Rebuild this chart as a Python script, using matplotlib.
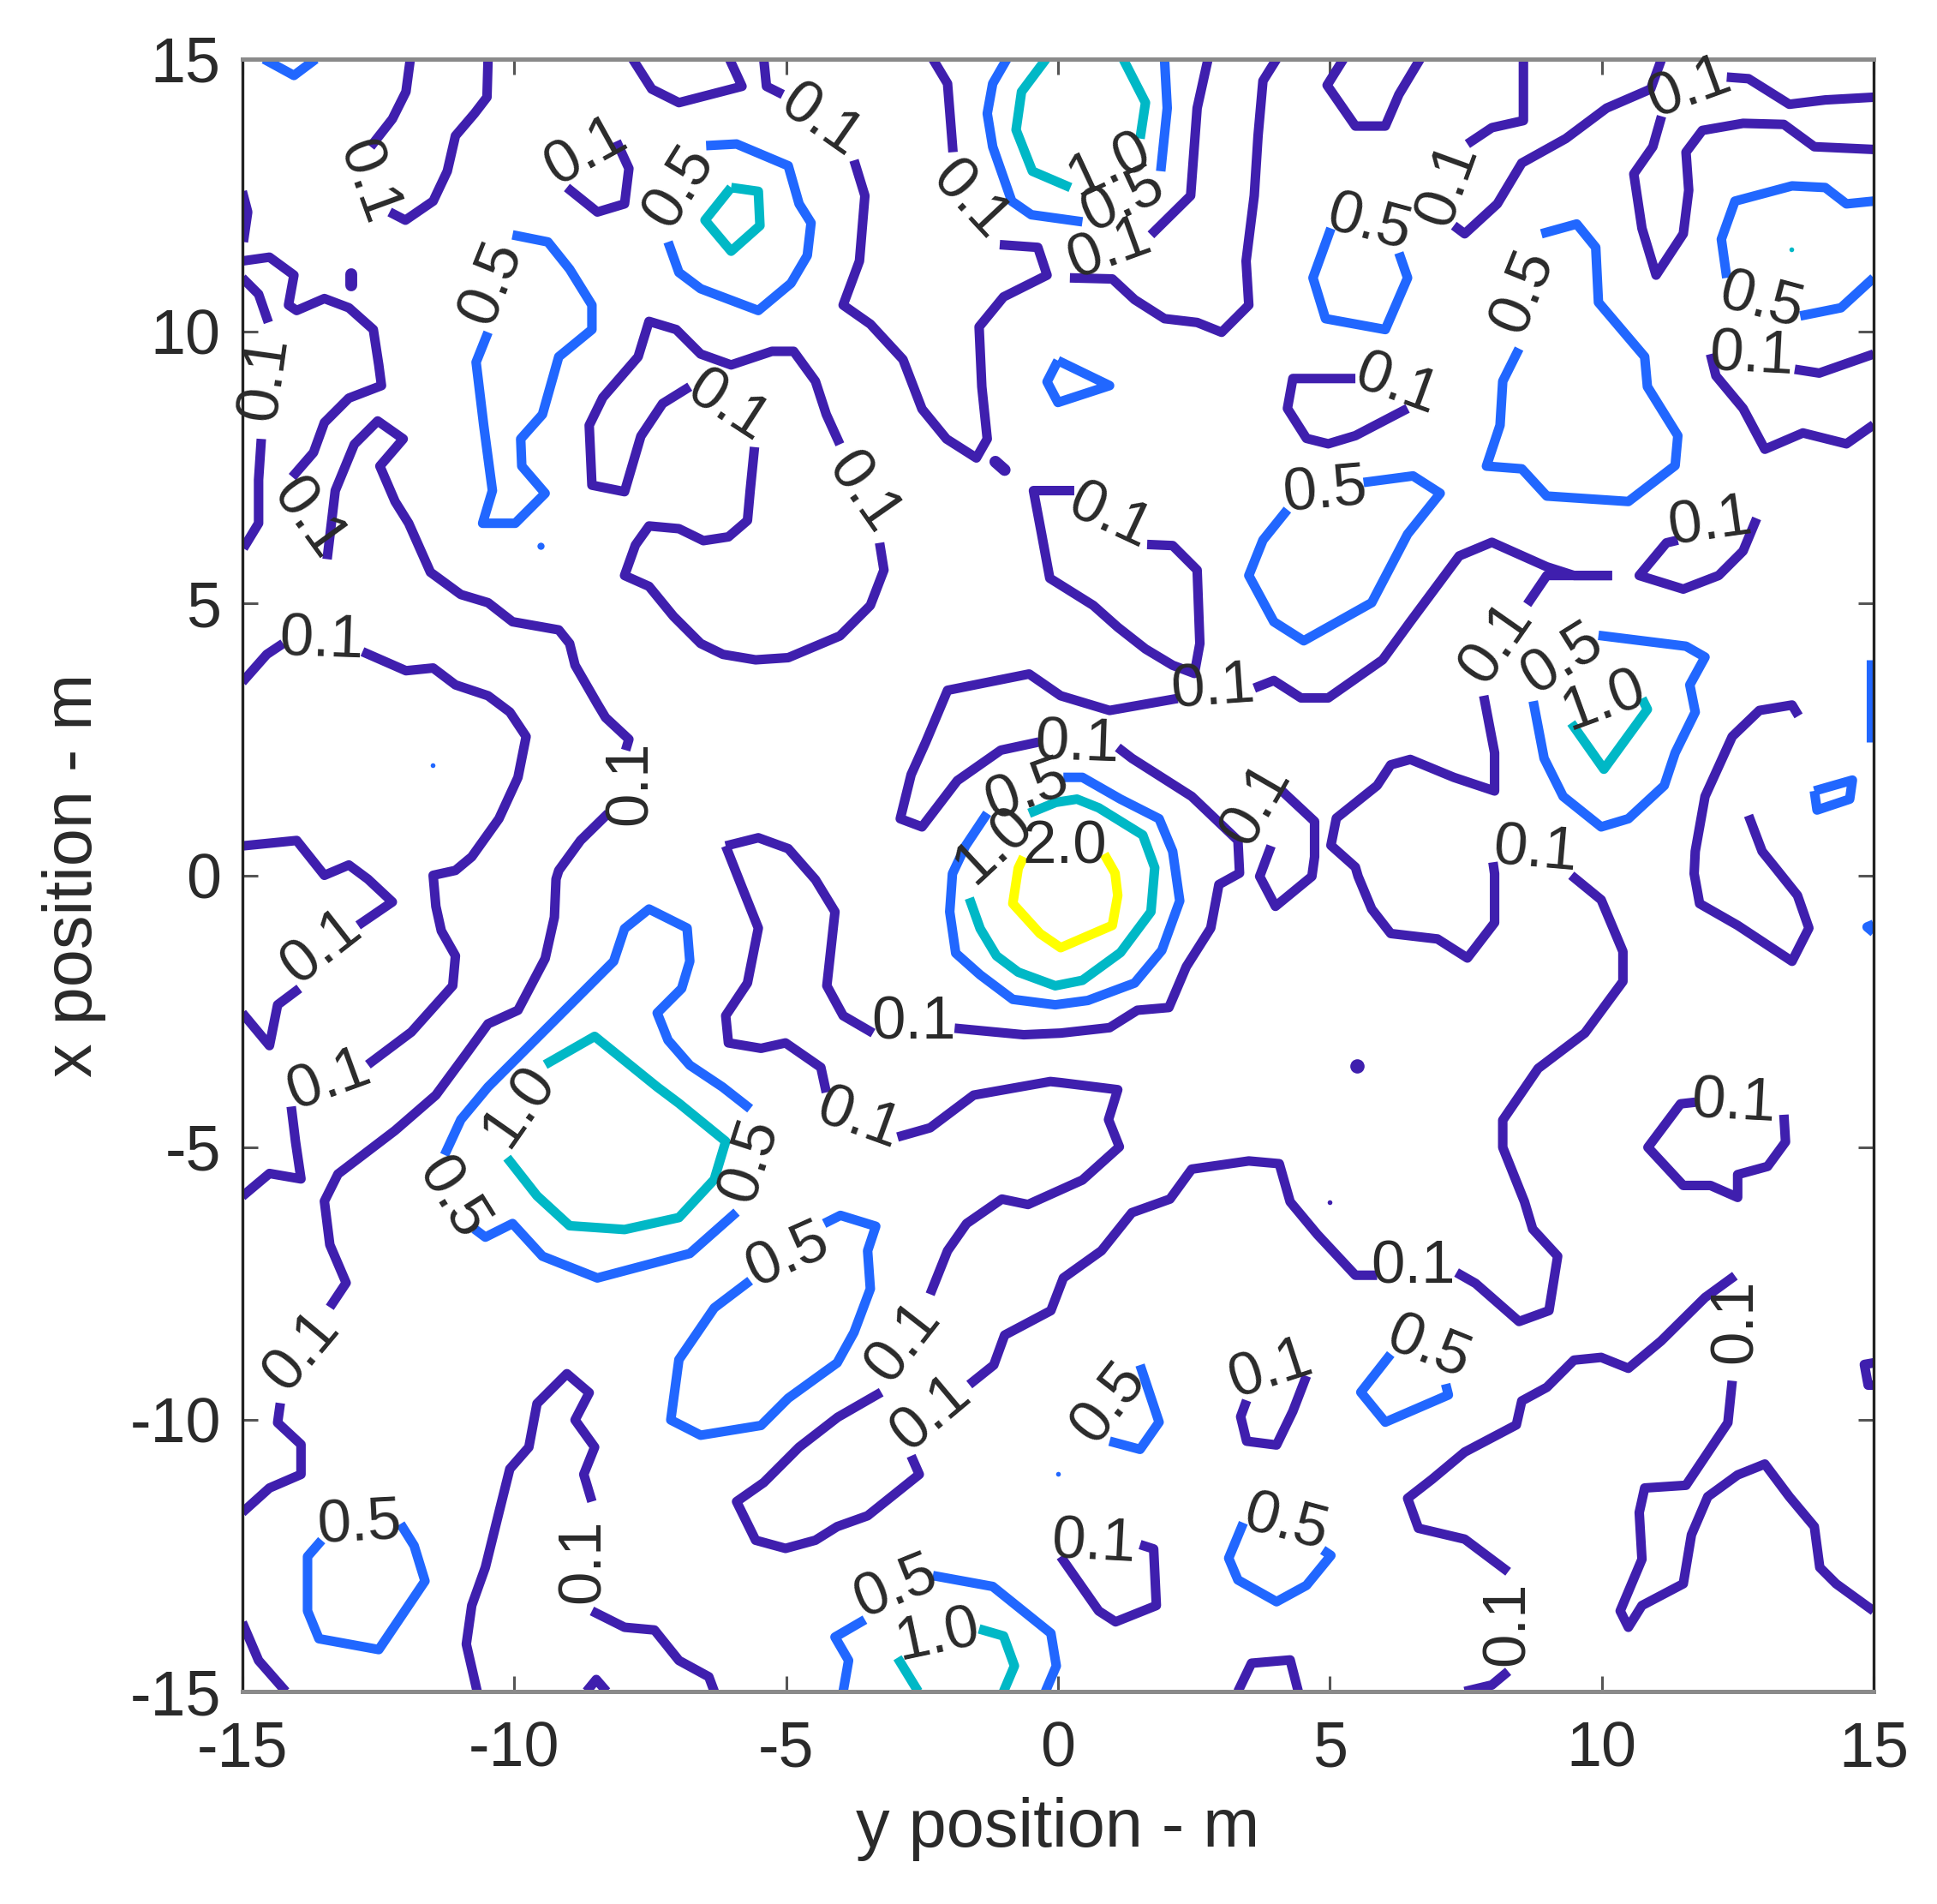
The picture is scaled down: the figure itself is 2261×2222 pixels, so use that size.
import matplotlib
matplotlib.use("Agg")
import matplotlib.pyplot as plt

plt.rcParams['font.family'] = ['Liberation Sans', 'DejaVu Sans']
plt.rcParams['axes.unicode_minus'] = False

level_01 = [
 [(-11.91,15),(-11.99,14.4),(-12.24,13.9),(-12.64,13.39)],
 [(-12.29,12.19),(-12.0,12.04),(-11.49,12.39),(-11.23,12.94),(-11.08,13.59),(-10.73,14.0),(-10.5,14.3),(-10.48,15)],
 [(-15,12.57),(-14.9,12.19),(-14.98,11.64)],
 [(-15,11.29),(-14.5,11.36),(-14.05,11.03),(-14.15,10.48),(-14,10.38),(-13.49,10.6),(-13.04,10.43),(-12.59,10.03),(-12.49,9.38),(-12.44,9),(-13.04,8.77),(-13.49,8.32),(-13.69,7.77),(-14.08,7.32)],
 [(-15,10.98),(-14.7,10.68),(-14.52,10.16)],
 [(-14.65,8.02),(-14.7,7.27),(-14.7,6.47),(-14.98,6.01)],
 [(-13.44,5.81),(-13.29,7.07),(-12.94,7.92),(-12.51,8.35),(-12.04,8.02),(-12.47,7.52),(-12.19,6.87),(-11.94,6.47),(-11.54,5.57),(-10.98,5.16),(-10.48,5.01),(-10.03,4.66),(-9.18,4.51),(-8.98,4.26),(-8.88,3.86),(-8.47,3.15),(-8.32,2.9),(-7.89,2.5),(-7.95,2.3)],
 [(-15,3.55),(-14.55,4.06),(-14.25,4.26)],
 [(-12.79,4.11),(-11.99,3.76),(-11.49,3.81),(-11.08,3.5),(-10.48,3.3),(-10.08,3.0),(-9.78,2.55),(-9.93,1.8),(-10.28,1.04),(-10.78,0.34),(-11.08,0.09),(-11.49,0.0),(-11.44,-0.57),(-11.34,-1.02),(-11.08,-1.48),(-11.13,-2.03),(-11.89,-2.88),(-12.69,-3.48)],
 [(-15,0.54),(-14,0.64),(-13.49,0.0),(-13.04,0.19),(-12.69,-0.07),(-12.24,-0.49),(-12.87,-0.92)],
 [(-13.95,-2.08),(-14.35,-2.38),(-14.5,-3.13),(-15,-2.53)],
 [(-14.1,-4.25),(-14.02,-4.9),(-13.92,-5.58),(-14.5,-5.48),(-15,-5.9)],
 [(-8.27,1.14),(-8.78,0.64),(-9.18,0.09),(-9.23,-0.07),(-9.26,-0.77),(-9.43,-1.53),(-9.93,-2.48),(-10.48,-2.73),(-10.88,-3.28),(-11.44,-4.04),(-12.19,-4.69),(-13.24,-5.49),(-13.49,-5.99),(-13.39,-6.79),(-13.09,-7.49),(-13.39,-7.94)],
 [(-14.3,-9.7),(-14.35,-10.06),(-13.92,-10.46),(-13.92,-11.01),(-14.5,-11.26),(-15,-11.71)],
 [(-15,-13.73),(-14.7,-14.43),(-14.2,-15)],
 [(-10.68,-15),(-10.88,-14.13),(-10.78,-13.42),(-10.53,-12.72),(-10.28,-11.71),(-10.08,-10.91),(-9.73,-10.51),(-9.58,-9.71),(-9.03,-9.16),(-8.62,-9.51),(-8.88,-10.01),(-8.52,-10.51),(-8.72,-11.01),(-8.57,-11.51)],
 [(-8.57,-13.52),(-7.97,-13.82),(-7.42,-13.87),(-6.97,-14.43),(-6.42,-14.73),(-6.32,-15)],
 [(-8.67,-15),(-8.49,-14.78),(-8.3,-15)],
 [(-7.82,15),(-7.47,14.45),(-6.97,14.2),(-5.81,14.5),(-6.04,15)],
 [(-5.41,15),(-5.36,14.5),(-5.06,14.35)],
 [(-8.12,13.49),(-7.89,12.99),(-7.97,12.34),(-8.47,12.19),(-9.03,12.64)],
 [(-3.75,13.14),(-3.55,12.49),(-3.65,11.29),(-3.95,10.48),(-3.45,10.13),(-2.85,9.48),(-2.5,8.57),(-2.05,8.02),(-1.5,7.67),(-1.3,8.02),(-1.4,8.98),(-1.45,10.08),(-1.0,10.63),(-0.2,11.03),(-0.37,11.54),(-1.07,11.59)],
 [(-2.3,15),(-2.03,14.55),(-1.93,13.29)],
 [(0.22,10.98),(1.0,10.96),(1.41,10.58),(1.96,10.23),(2.56,10.16),(3.01,9.98),(3.51,10.48),(3.46,11.29),(3.61,12.49),(3.68,13.59),(3.77,14.6),(4.02,15)],
 [(2.76,15),(2.56,14.1),(2.44,12.49),(1.71,11.77)],
 [(5.25,15),(4.95,14.52),(5.47,13.77),(6.02,13.77),(6.27,14.35),(6.66,15)],
 [(8.56,15),(8.56,13.87),(7.98,13.74),(7.53,13.44)],
 [(11.1,15),(10.9,14.45),(10.09,14.1),(9.34,13.54),(8.53,13.09),(8.08,12.34),(7.48,11.79),(7.28,11.94)],
 [(12.3,14.67),(12.7,14.64),(13.45,14.17),(14.11,14.25),(15,14.3)],
 [(11.1,13.95),(10.94,13.39),(10.59,12.89),(10.74,11.89),(11.0,11.03),(11.5,11.79),(11.6,12.59),(11.55,13.29),(11.85,13.69),(12.6,13.82),(13.35,13.8),(13.91,13.39),(15,13.34)],
 [(13.55,9.3),(14.0,9.23),(15,9.58)],
 [(12.0,9.58),(12.1,9.18),(12.6,8.58),(13.0,7.83),(13.7,8.13),(14.5,7.93),(15,8.28)],
 [(6.43,8.58),(5.47,8.08),(4.97,7.93),(4.57,8.03),(4.22,8.58),(4.32,9.13),(5.47,9.13)],
 [(-4.01,7.92),(-4.26,8.47),(-4.46,9.08),(-4.86,9.63),(-5.26,9.63),(-6.01,9.38),(-6.57,9.58),(-7.02,10.03),(-7.52,10.18),(-7.72,9.53),(-8.37,8.78),(-8.62,8.27),(-8.57,7.17),(-7.97,7.05),(-7.67,8.07),(-7.27,8.67),(-6.77,8.98)],
 [(-5.58,7.87),(-5.66,7.07),(-5.71,6.52),(-6.06,6.22),(-6.52,6.15),(-6.97,6.37),(-7.52,6.42),(-7.77,6.07),(-7.97,5.51),(-7.52,5.31),(-7.07,4.76),(-6.57,4.26),(-6.16,4.06),(-5.56,3.96),(-4.96,4.0),(-4.01,4.4),(-3.45,4.96),(-3.2,5.61),(-3.28,6.11)],
 [(0.3,7.07),(-0.45,7.07),(-0.3,6.27),(-0.15,5.46),(0.65,4.96),(1.1,4.56),(1.61,4.16),(2.11,3.86),(2.51,3.71),(2.61,4.26),(2.56,5.61),(2.11,6.06),(1.64,6.08)],
 [(2.2,3.25),(0.95,3.03),(0.05,3.3),(-0.53,3.7),(-2.03,3.4),(-2.43,2.45),(-2.7,1.85),(-2.9,1.04),(-2.5,0.89),(-1.85,1.74),(-1.05,2.3),(-0.35,2.45)],
 [(3.61,3.44),(3.97,3.58),(4.47,3.26),(4.97,3.26),(5.97,3.96),(6.48,4.66),(7.38,5.87),(7.98,6.12),(8.99,5.67),(9.49,5.51),(10.19,5.51)],
 [(8.63,4.98),(8.99,5.51),(10.19,5.51)],
 [(12.85,6.56),(12.6,5.96),(12.15,5.51),(11.5,5.26),(10.69,5.51),(11.19,6.11),(11.4,6.16)],
 [(1.1,2.35),(1.36,2.15),(2.46,1.45),(3.31,0.64),(3.34,0.04),(2.96,-0.17),(2.81,-0.97),(2.36,-1.68),(2.04,-2.43),(1.46,-2.48),(0.95,-2.8),(0.05,-2.9),(-0.63,-2.93),(-1.9,-2.81)],
 [(-6.11,0.54),(-5.51,0.69),(-4.96,0.49),(-4.46,-0.08),(-4.1,-0.67),(-4.25,-2.03),(-3.95,-2.58),(-3.4,-2.9)],
 [(-6.11,0.54),(-5.81,-0.22),(-5.51,-0.97),(-5.71,-1.98),(-6.11,-2.58),(-6.06,-3.08),(-5.46,-3.18),(-5.01,-3.08),(-4.36,-3.53),(-4.26,-3.99)],
 [(-2.95,-4.81),(-2.35,-4.64),(-1.55,-4.04),(-0.14,-3.79),(0.05,-3.81),(1.1,-3.94),(0.93,-4.49),(1.13,-4.99),(0.45,-5.6),(-0.55,-6.05),(-1.03,-5.95),(-1.68,-6.4),(-2.03,-6.9),(-2.35,-7.7)],
 [(-1.63,-9.36),(-1.18,-9.0),(-0.98,-8.45),(-0.13,-8.0),(0.1,-7.4),(0.8,-6.9),(1.36,-6.2),(2.06,-5.95),(2.46,-5.4),(3.51,-5.25),(4.07,-5.3),(4.27,-6.0),(4.77,-6.6),(5.47,-7.35),(5.87,-7.35)],
 [(7.33,-7.3),(7.68,-7.5),(8.48,-8.2),(9.03,-8.0),(9.19,-7.0),(8.73,-6.5),(8.58,-6.0),(8.18,-5.0),(8.18,-4.5),(8.83,-3.55),(9.69,-2.9),(10.39,-1.95),(10.39,-1.4),(9.99,-0.45),(9.44,0.0)],
 [(7.83,3.3),(8.03,2.25),(8.03,1.55),(7.28,1.8),(6.48,2.13),(6.12,2.03),(5.87,1.65),(5.12,1.05),(5.02,0.55),(5.47,0.15),(5.52,-0.02),(5.77,-0.62),(6.12,-1.07),(6.98,-1.17),(7.53,-1.52),(8.03,-0.87),(8.03,0.03),(8.0,0.24)],
 [(4.12,1.55),(4.72,0.99),(4.72,0.34),(4.67,-0.02),(4.0,-0.57),(3.71,-0.02),(3.92,0.54)],
 [(13.62,2.93),(13.5,3.13),(12.9,3.03),(12.4,2.55),(11.9,1.45),(11.72,0.44),(11.7,0.03),(11.8,-0.52),(12.5,-0.92),(13.5,-1.58),(13.81,-0.97),(13.6,-0.37),(13.2,0.13),(12.95,0.44),(12.7,1.1)],
 [(12.45,-7.36),(11.9,-7.76),(11.09,-8.56),(10.49,-9.06),(9.99,-8.86),(9.49,-8.91),(8.99,-9.41),(8.53,-9.66),(8.43,-10.1),(7.48,-10.6),(6.88,-11.1),(6.43,-11.45),(6.63,-12.0),(7.48,-12.2),(8.28,-12.8)],
 [(12.4,-9.29),(12.32,-10.06),(11.55,-11.21),(10.79,-11.26),(10.69,-11.71),(10.74,-12.57),(10.34,-13.52),(10.49,-13.82),(10.74,-13.42),(11.5,-13.02),(11.65,-12.12),(11.95,-11.42),(12.5,-11.02),(13.0,-10.82),(13.45,-11.42),(13.91,-11.97),(14.01,-12.72),(14.31,-13.02),(15,-13.52)],
 [(15,-8.96),(14.83,-8.99),(14.9,-9.37),(15,-9.37)],
 [(11.72,-4.17),(11.45,-4.2),(10.85,-5.0),(11.5,-5.7),(12.0,-5.7),(12.5,-5.92),(12.5,-5.5),(13.05,-5.35),(13.38,-4.9),(13.35,-4.4)],
 [(4.57,-9.2),(4.32,-9.85),(4.02,-10.47),(3.47,-10.4),(3.36,-9.95),(3.47,-9.65)],
 [(1.51,-12.3),(1.76,-12.38),(1.81,-13.42),(1.06,-13.72),(0.75,-13.52),(0.05,-12.52)],
 [(3.31,-15),(3.56,-14.48),(4.27,-14.42),(4.42,-15)],
 [(7.48,-15),(7.98,-14.88),(8.28,-14.63)],
 [(-3.25,-9.5),(-4.05,-9.96),(-4.76,-10.51),(-5.41,-11.16),(-5.91,-11.51),(-5.56,-12.22),(-5.01,-12.37),(-4.46,-12.22),(-4.06,-11.97),(-3.5,-11.77),(-2.55,-11.01),(-2.7,-10.67)],
]
blobs_01 = [
 [(-13.0,11.05),(-13.0,10.85)],
 [(-1.15,7.6),(-0.98,7.45)],
]
level_05 = [
 [(-14.6,15),(-14.05,14.7),(-13.65,15)],
 [(-10.03,11.77),(-9.38,11.64),(-8.98,11.14),(-8.57,10.48),(-8.57,10.03),(-9.18,9.53),(-9.48,8.47),(-9.88,8.02),(-9.86,7.52),(-9.43,7.02),(-9.98,6.47),(-10.58,6.47),(-10.4,7.07),(-10.56,8.27),(-10.7,9.43),(-10.48,9.98)],
 [(-6.47,13.41),(-5.91,13.44),(-4.96,13.04),(-4.76,12.34),(-4.54,11.99),(-4.61,11.39),(-4.91,10.88),(-5.51,10.38),(-6.57,10.78),(-6.97,11.08),(-7.17,11.64)],
 [(-0.94,15),(-1.2,14.55),(-1.3,14.0),(-1.2,13.39),(-0.85,12.39),(-0.49,12.14),(0.45,12.01)],
 [(1.96,15),(2.01,14.1),(1.89,12.94)],
 [(0.0,9.46),(0.95,9.0),(0.0,8.69),(-0.2,9.07),(0.0,9.46)],
 [(5.02,11.89),(4.69,10.98),(4.92,10.23),(6.02,10.03),(6.43,10.98),(6.27,11.44)],
 [(8.89,11.79),(9.54,11.97),(9.89,11.54),(9.94,10.53),(10.79,9.53),(10.84,8.98),(11.4,8.08),(11.35,7.53),(10.49,6.87),(8.99,6.97),(8.53,7.47),(7.88,7.52),(8.13,8.27),(8.18,9.08),(8.48,9.68)],
 [(12.3,10.98),(12.2,11.69),(12.45,12.39),(13.5,12.67),(14.11,12.64),(14.5,12.34),(15,12.39)],
 [(13.65,10.28),(14.4,10.43),(15,10.98)],
 [(5.62,7.22),(6.53,7.34),(7.03,7.02),(6.43,6.27),(5.77,5.01),(4.52,4.31),(3.97,4.66),(3.51,5.51),(3.77,6.16),(4.22,6.72)],
 [(9.94,4.41),(11.55,4.21),(11.9,4.01),(11.62,3.5),(11.72,3.0),(11.35,2.25),(11.15,1.65),(10.49,1.04),(9.99,0.89),(9.29,1.45),(8.94,2.15),(8.74,3.2)],
 [(14.95,3.96),(14.95,2.45)],
 [(13.91,1.55),(14.61,1.75),(14.56,1.4),(13.96,1.2),(13.91,1.55)],
 [(15,-0.9),(14.88,-0.95),(15,-1.05)],
 [(0.1,1.8),(0.45,1.8),(1.15,1.4),(1.86,1.04),(2.11,0.44),(2.24,-0.47),(1.91,-1.38),(1.41,-1.98),(0.55,-2.3),(-0.05,-2.38),(-0.83,-2.28),(-1.43,-1.83),(-1.88,-1.43),(-1.99,-0.67),(-1.94,0.03),(-1.7,0.54),(-1.3,1.14)],
 [(-11.28,-5.14),(-10.98,-4.49),(-10.48,-3.89),(-9.88,-3.29),(-9.18,-2.59),(-8.17,-1.58),(-7.97,-0.98),(-7.52,-0.62),(-6.82,-0.97),(-6.77,-1.58),(-6.92,-2.08),(-7.37,-2.53),(-7.17,-3.03),(-6.77,-3.49),(-6.17,-3.89),(-5.66,-4.29)],
 [(-5.91,-6.19),(-6.77,-6.95),(-8.47,-7.4),(-9.48,-7.0),(-10.03,-6.4),(-10.53,-6.65),(-10.73,-6.5)],
 [(-5.66,-7.45),(-6.32,-7.95),(-6.97,-8.9),(-7.12,-10.01),(-6.57,-10.29),(-5.46,-10.11),(-4.96,-9.61),(-4.06,-8.96),(-3.75,-8.4),(-3.45,-7.6),(-3.5,-6.9),(-3.35,-6.45),(-4.0,-6.25),(-4.3,-6.4)],
 [(-12.09,-11.92),(-11.84,-12.32),(-11.64,-12.97),(-12.49,-14.23),(-13.59,-14.03),(-13.8,-13.52),(-13.8,-12.52),(-13.54,-12.22)],
 [(-2.3,-12.87),(-1.2,-13.07),(-0.13,-13.93),(-0.03,-14.53),(-0.23,-15)],
 [(-3.55,-13.68),(-4.1,-14.0),(-3.85,-14.43),(-3.95,-15)],
 [(1.51,-9.0),(1.86,-10.05),(1.51,-10.55),(0.95,-10.4)],
 [(6.12,-8.8),(5.57,-9.5),(6.02,-10.05),(7.18,-9.55),(7.13,-9.35)],
 [(3.41,-11.9),(3.14,-12.55),(3.31,-12.95),(4.02,-13.35),(4.57,-13.05),(5.02,-12.5),(4.87,-12.4)],
]
level_10 = [
 [(-6.01,12.64),(-5.51,12.57),(-5.48,11.94),(-6.01,11.47),(-6.49,12.04),(-6.01,12.64)],
 [(-0.22,15),(-0.67,14.4),(-0.77,13.7),(-0.47,12.94),(0.23,12.64)],
 [(1.2,15),(1.61,14.2),(1.51,13.54)],
 [(9.44,2.8),(10.04,1.95),(10.84,3.05),(10.74,3.25)],
 [(-0.53,1.14),(-0.04,1.34),(0.35,1.4),(0.75,1.24),(1.56,0.74),(1.78,0.14),(1.71,-0.67),(1.15,-1.42),(0.45,-1.93),(-0.05,-2.03),(-0.73,-1.78),(-1.13,-1.48),(-1.43,-0.98),(-1.63,-0.42)],
 [(-9.43,-3.48),(-8.52,-2.96),(-7.37,-3.89),(-6.97,-4.19),(-6.11,-4.89),(-6.32,-5.59),(-6.97,-6.29),(-7.97,-6.51),(-8.98,-6.44),(-9.58,-5.89),(-10.13,-5.19)],
 [(-1.45,-13.85),(-1.0,-13.98),(-0.8,-14.53),(-1.0,-15)],
 [(-2.95,-14.38),(-2.57,-15)],
]
level_20 = [
 [(0.85,0.39),(1.05,0.04),(1.1,-0.37),(1.0,-0.92),(0.05,-1.33),(-0.33,-1.07),(-0.83,-0.52),(-0.73,0.13),(-0.63,0.34)],
]
dots_01 = [(5.5,-3.5,12),(4.99,-6.0,4)]
dots_05 = [(-9.51,6.05,6),(-11.5,2.02,4),(0.0,-11.0,4)]
dots_10 = [(13.48,11.5,4)]

label_text = ["0.1","0.1","0.5","0.5","0.1","0.1","0.1","0.1","0.1","0.1","0.1","0.1",
              "1.0","0.5","0.1","0.5","0.1","0.1","0.5","0.5","0.1","0.1","0.5","0.1","0.1","0.5","1.0","0.1","0.1","0.5","1.0","2.0","0.1","0.1","0.1",
              "0.1","0.1","1.0","0.5","0.5","0.1","0.1","0.5","0.1","0.1","0.1","0.5","0.1","0.5","1.0",
              "0.1","0.1","0.1","0.5","0.1","0.5","0.5","0.1","0.1"]
label_x = [-12.71,-8.67,-6.95,-10.4,-14.58,-13.79,-6.08,-4.38,-3.6,-1.63,-13.54,-7.85,
           0.95,1.2,0.95,5.72,7.18,11.62,8.56,12.93,12.75,6.22,4.92,0.95,12.0,9.29,10.04,8.08,2.86,-0.56,-1.17,0.12,0.35,3.66,8.78,
           -13.54,-13.41,-9.9,-5.66,-11.16,-3.67,-2.65,-4.97,-13.9,-2.83,-2.33,-12.85,-8.72,-2.97,-2.2,
           6.53,12.42,12.48,6.81,3.92,0.95,4.19,0.65,8.28]
label_y = [12.74,13.29,12.64,10.88,9.13,6.55,8.6,13.85,7.02,12.39,4.31,1.7,
           13.04,12.39,11.49,11.96,12.69,14.45,10.73,10.53,9.53,9.0,7.05,6.57,6.47,3.96,3.2,4.26,3.43,1.54,0.54,0.5,2.4,1.3,0.44,
           -1.33,-3.79,-4.24,-5.24,-5.95,-4.5,-2.72,-7.0,-8.76,-8.58,-9.9,-11.94,-12.6,-13.1,-13.98,
           -7.22,-4.2,-8.2,-8.7,-9.1,-9.7,-11.93,-12.3,-13.75]
label_rot = [-70,29,58,68,82,-54,-33,-35,-55,-47,-2,90,
             25,25,20,-15,70,20,68,-15,-3,-20,5,-25,8,32,20,55,4,20,43,0,-2,60,-5,
             38,20,55,72,-58,-20,0,24,50,52,40,3,90,22,12,
             0,-3,90,-22,18,52,-15,-3,90]

x_ticks = [-15,-10,-5,0,5,10,15]
y_ticks = [-15,-10,-5,0,5,10,15]
x_title = "y position - m"
y_title = "x position - m"

W, H = 2261, 2222
fig = plt.figure(figsize=(W/100, H/100), dpi=100)
ax = fig.add_axes([282.8/W, (H-1974)/H, 1904.2/W, 1905/H])

colors = {"01":"#3f1fae","05":"#2167ff","10":"#00b8c6","20":"#ffff00"}
lw = 8
for key, segs in (("01",level_01),("05",level_05),("10",level_10),("20",level_20)):
    for s in segs:
        ax.plot([p[0] for p in s],[p[1] for p in s],color=colors[key],lw=lw,
                solid_joinstyle="round",solid_capstyle="butt",zorder=2)
for s in blobs_01:
    ax.plot([p[0] for p in s],[p[1] for p in s],color=colors["01"],lw=10,
            solid_capstyle="round",zorder=2)
for key, dots in (("01",dots_01),("05",dots_05),("10",dots_10)):
    for x,y,sz in dots:
        ax.plot([x],[y],marker="o",ms=sz,color=colors[key],mec="none",zorder=2)

for t,x,y,r in zip(label_text,label_x,label_y,label_rot):
    ax.text(x,y,t,rotation=r,rotation_mode="anchor",ha="center",va="center",
            fontsize=51,color="#2a2a2a",zorder=3)

ax.set_xlim(-15,15)
ax.set_ylim(-15,15)
ax.set_xticks(x_ticks)
ax.set_yticks(y_ticks)
ax.tick_params(direction="in",length=13,width=2.2,color="#555555",top=True,right=True,
               labelsize=53,labelcolor="#2a2a2a")
ax.tick_params(axis="x",pad=24)
ax.tick_params(axis="y",pad=18)
for side,sp in ax.spines.items():
    sp.set_linewidth(3.6 if side in("top","bottom") else 2.4)
    sp.set_color("#8a8a8a" if side in("top","bottom") else "#222222")
ax.set_xlabel(x_title,fontsize=57,color="#2a2a2a",va="center")
ax.set_ylabel(y_title,fontsize=57,color="#2a2a2a",va="center")
ax.xaxis.set_label_coords(0.5,-0.084)
ax.yaxis.set_label_coords(-0.103,0.5)
fig.savefig("out.png",dpi=100)
